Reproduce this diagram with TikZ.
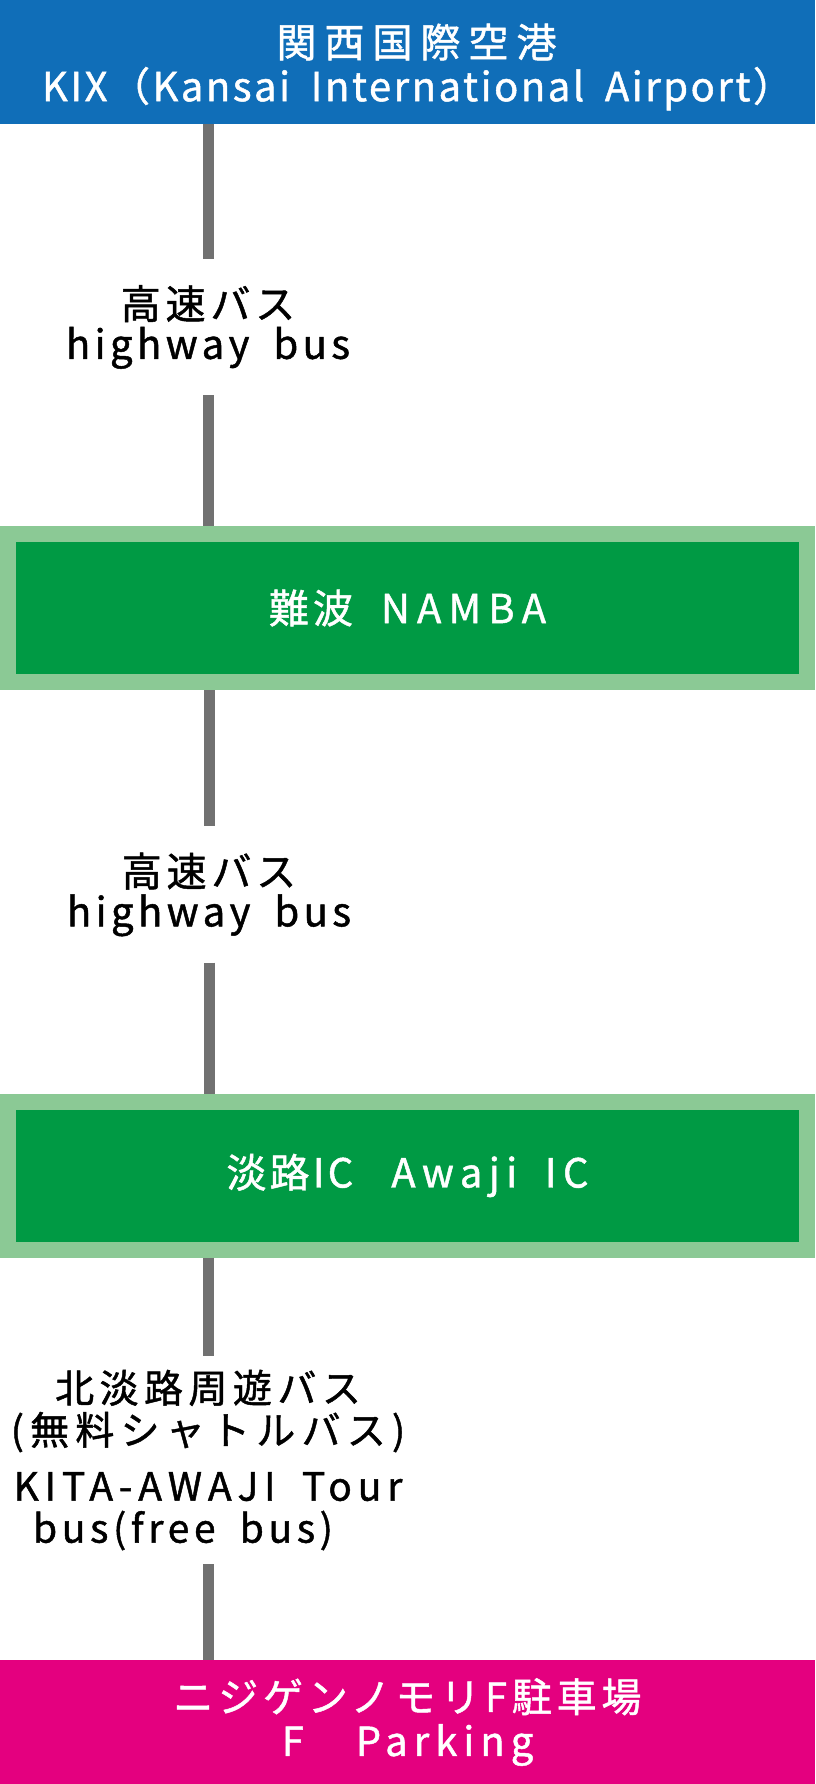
\documentclass[tikz,border=0pt]{standalone}
\usepackage{fontspec}
\setmainfont{Noto Sans CJK JP}[FakeBold=1.2, WordSpace=1.8]
\definecolor{kixblue}{HTML}{106EB8}
\definecolor{stopgreen}{HTML}{009A44}
\definecolor{stopedge}{HTML}{8BC995}
\definecolor{parkpink}{HTML}{E4007F}
\definecolor{railgray}{HTML}{717171}
\newcommand{\trk}[1]{\addfontfeature{LetterSpace=#1}}

\begin{document}
\begin{tikzpicture}[x=1pt,y=-1pt,
    endbox/.style={minimum width=815pt, minimum height=124pt, inner sep=0pt, text=white, align=center, font=\fontsize{40}{44}\selectfont},
    stopbox/.style={fill=stopgreen, draw=stopedge, line width=16pt, minimum width=799pt, minimum height=148pt, inner sep=0pt, text=white, font=\fontsize{40}{43}\selectfont},
    buslabel/.style={align=center, inner xsep=0pt, inner ysep=26pt, font=\fontsize{40}{40}\selectfont},
    rail/.style={draw=railgray, line width=11pt}]
    \useasboundingbox (0,0) rectangle (815,1784);

    \node[endbox, fill=kixblue] (kix) at (407.5,62) {};
    \node[text=white, align=center, font=\fontsize{40}{44}\selectfont] (kixname) at (407.5,67) {{\trk{20}\hspace*{18pt}関西国際空港}\\{\trk{6.3}\hspace*{20pt}KIX（Kansai International Airport）}};
    \node[buslabel] (bus1) at (208,327) {{\trk{12}高速バス}\\{\trk{11}highway bus}};
    \node[stopbox] (namba) at (407.5,608) {{\trk{10}難波}\hspace{28pt}{\trk{18}NAMBA}};
    \node[buslabel] (bus2) at (209,894.5) {{\trk{12}高速バス}\\{\trk{11}highway bus}};
    \node[stopbox] (awaji) at (407.5,1175.5) {{\trk{8}淡路IC}\hspace{38pt}{\trk{16}Awaji IC}};
    \node[buslabel, inner ysep=14pt, font=\fontsize{39}{42}\selectfont] (bus3) at (208,1460) {{\trk{14}北淡路周遊バス}\\{\trk{16}(無料シャトルバス)}\\[14pt]{\trk{15}KITA-AWAJI Tour}\\{\trk{12}\hspace*{-50pt}bus(free bus)}};
    \node[endbox, fill=parkpink] (park) at (407.5,1722) {{\trk{12}ニジゲンノモリF駐車場}\\{\trk{15}F　Parking}};

    \draw[rail] (kix.south -| bus1.north) -- (bus1.north);
    \draw[rail] (bus1.south) -- (namba.north -| bus1.south);
    \draw[rail] (namba.south -| bus2.north) -- (bus2.north);
    \draw[rail] (bus2.south) -- (awaji.north -| bus2.south);
    \draw[rail] (awaji.south -| bus3.north) -- (bus3.north);
    \draw[rail] (bus3.south) -- (park.north -| bus3.south);
\end{tikzpicture}
\end{document}
